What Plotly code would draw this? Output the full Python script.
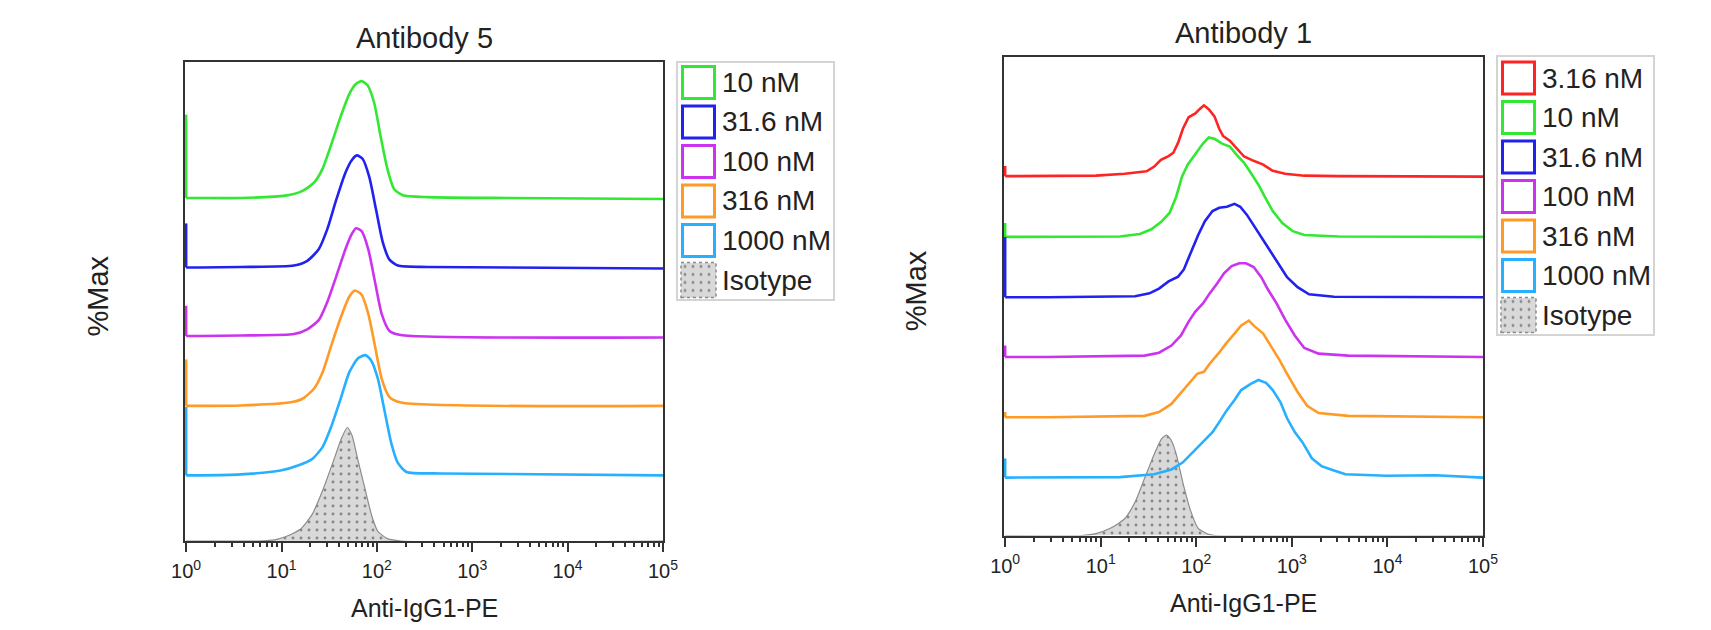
import plotly.graph_objects as go

W, H = 1711, 630
FONT = "Liberation Sans"
TXT = "#222222"

# ---------------- data : Antibody 5 (x = log10 fluorescence, y = %Max offset scale) ----------------
ab5_series = ["10 nM", "31.6 nM", "100 nM", "316 nM", "1000 nM"]
ab5_10_lx = [0, 0, 0.15, 0.57, 1.04, 1.22, 1.34, 1.43, 1.52, 1.62, 1.71, 1.78, 1.84, 1.90, 1.97, 2.04, 2.11, 2.18, 2.27, 2.53, 3.37, 5.0]
ab5_10_y = [89.0, 71.6, 71.6, 71.6, 72.1, 73.1, 74.8, 77.7, 82.7, 88.6, 93.3, 95.4, 96.0, 95.2, 91.6, 84.4, 77.7, 73.5, 72.2, 71.8, 71.6, 71.4]
ab5_31_lx = [0, 0, 0.15, 0.57, 1.13, 1.27, 1.39, 1.48, 1.57, 1.67, 1.74, 1.79, 1.85, 1.92, 1.99, 2.06, 2.13, 2.22, 2.53, 5.0]
ab5_31_y = [66.3, 57.1, 57.1, 57.2, 57.5, 58.5, 60.9, 65.1, 71.0, 76.9, 79.6, 80.5, 79.8, 76.0, 69.3, 62.5, 58.8, 57.5, 57.2, 56.9]
ab5_100_lx = [0, 0, 0.15, 0.57, 1.13, 1.27, 1.39, 1.48, 1.57, 1.67, 1.74, 1.78, 1.84, 1.91, 1.98, 2.05, 2.13, 2.25, 5.0]
ab5_100_y = [49.1, 42.8, 42.8, 42.9, 43.2, 44.2, 46.1, 49.9, 55.0, 60.9, 64.2, 65.3, 64.7, 60.9, 54.1, 47.4, 43.9, 43.0, 42.5]
ab5_316_lx = [0, 0, 0.15, 0.57, 1.08, 1.22, 1.34, 1.43, 1.52, 1.62, 1.71, 1.77, 1.84, 1.91, 1.98, 2.05, 2.13, 2.25, 5.0]
ab5_316_y = [37.9, 28.2, 28.2, 28.3, 28.9, 29.7, 31.8, 35.2, 40.7, 46.6, 51.0, 52.3, 51.4, 47.4, 40.7, 33.9, 30.1, 28.9, 28.2]
ab5_1000_lx = [0, 0, 0.15, 0.57, 0.99, 1.18, 1.32, 1.43, 1.52, 1.62, 1.71, 1.80, 1.88, 1.94, 2.01, 2.08, 2.15, 2.22, 2.31, 2.67, 5.0]
ab5_1000_y = [28.0, 13.7, 13.7, 13.9, 14.7, 15.8, 17.1, 19.6, 23.8, 29.7, 35.2, 38.1, 38.8, 37.7, 33.9, 27.2, 20.5, 16.3, 14.4, 14.1, 13.7]
ab5_iso_lx = [0, 0.76, 0.94, 1.08, 1.20, 1.32, 1.43, 1.55, 1.63, 1.69, 1.74, 1.80, 1.88, 1.95, 2.01, 2.11, 2.25, 5.0]
ab5_iso_y = [0, 0, 0.3, 1.2, 2.5, 5.5, 10.5, 17.0, 21.5, 23.7, 22.0, 17.0, 10.5, 5.0, 2.0, 0.5, 0, 0]

# ---------------- data : Antibody 1 ----------------
ab1_series = ["3.16 nM", "10 nM", "31.6 nM", "100 nM", "316 nM", "1000 nM"]
ab1_3_lx = [0, 0, 0.44, 0.95, 1.25, 1.41, 1.48, 1.56, 1.63, 1.71, 1.76, 1.81, 1.86, 1.92, 1.99, 2.04, 2.08, 2.13,
            2.19, 2.24, 2.28, 2.35, 2.42, 2.50, 2.60, 2.70, 2.80, 2.93, 3.13, 3.49, 5.0]
ab1_3_y = [77.2, 75.1, 75.1, 75.2, 75.6, 76.0, 76.1, 77.1, 78.5, 79.3, 80.0, 82.1, 85.0, 87.4, 88.2, 89.2, 89.9, 89.1,
           87.6, 85.0, 83.5, 82.5, 81.0, 79.2, 78.3, 77.5, 76.2, 75.6, 75.2, 75.1, 75.0]
ab1_10_lx = [0, 0, 0.44, 1.20, 1.41, 1.53, 1.63, 1.72, 1.79, 1.85, 1.91, 1.99, 2.07, 2.13, 2.19, 2.27, 2.35, 2.42,
             2.50, 2.57, 2.65, 2.73, 2.80, 2.90, 3.01, 3.13, 3.49, 5.0]
ab1_10_y = [65.3, 62.4, 62.4, 62.5, 63.0, 64.0, 65.5, 67.4, 70.8, 75.0, 77.5, 79.6, 81.9, 83.2, 82.9, 81.9, 81.3, 79.6,
            77.9, 75.8, 73.3, 70.3, 67.8, 65.3, 63.6, 62.8, 62.5, 62.4]
ab1_31_lx = [0, 0, 0.44, 1.36, 1.51, 1.61, 1.71, 1.81, 1.87, 1.94, 2.02, 2.09, 2.17, 2.24, 2.32, 2.40, 2.46, 2.53,
             2.61, 2.70, 2.78, 2.87, 2.95, 3.06, 3.18, 3.44, 5.0]
ab1_31_y = [62.4, 49.8, 49.8, 50.0, 50.6, 51.6, 53.1, 54.1, 55.6, 59.0, 62.8, 65.7, 67.8, 68.5, 68.7, 69.3, 68.7, 67.0,
            64.5, 61.9, 59.4, 56.5, 54.0, 51.9, 50.4, 49.9, 49.8]
ab1_100_lx = [0, 0, 0.44, 1.46, 1.61, 1.74, 1.84, 1.92, 1.99, 2.07, 2.14, 2.22, 2.29, 2.37, 2.45, 2.52, 2.60, 2.68,
              2.75, 2.84, 2.93, 3.03, 3.13, 3.28, 3.59, 5.0]
ab1_100_y = [39.7, 37.3, 37.3, 37.6, 38.2, 39.7, 41.8, 44.7, 46.8, 48.5, 50.6, 52.7, 54.8, 56.3, 56.9, 56.9, 56.1, 54.0,
             51.4, 48.5, 45.1, 41.8, 39.2, 38.0, 37.6, 37.3]
ab1_316_lx = [0, 0, 0.44, 1.46, 1.61, 1.74, 1.85, 1.94, 2.01, 2.08, 2.14, 2.23, 2.31, 2.40, 2.47, 2.55, 2.61, 2.70,
              2.78, 2.87, 2.95, 3.06, 3.16, 3.28, 3.59, 5.0]
ab1_316_y = [25.8, 24.7, 24.7, 25.0, 25.8, 27.5, 30.0, 32.1, 33.8, 34.2, 35.9, 38.0, 40.1, 42.2, 43.9, 44.9, 43.7, 42.2,
             39.7, 36.7, 33.8, 30.0, 27.1, 25.6, 25.0, 24.7]
ab1_1000_lx = [0, 0, 0.44, 1.20, 1.56, 1.74, 1.86, 1.96, 2.07, 2.17, 2.24, 2.32, 2.40, 2.47, 2.57, 2.65, 2.73, 2.80,
               2.88, 2.95, 3.03, 3.11, 3.21, 3.31, 3.44, 3.56, 3.99, 4.50, 5.0]
ab1_1000_y = [16.1, 12.1, 12.1, 12.2, 12.8, 13.8, 15.3, 17.4, 19.5, 21.6, 23.7, 26.2, 28.3, 30.4, 31.7, 32.5, 31.9, 30.4,
              27.9, 24.5, 21.6, 19.5, 16.1, 14.5, 13.6, 12.8, 12.5, 12.6, 12.1]
ab1_iso_lx = [0, 0.80, 0.95, 1.10, 1.25, 1.36, 1.46, 1.56, 1.64, 1.69, 1.74, 1.79, 1.86, 1.94, 2.02, 2.12, 2.20, 5.0]
ab1_iso_y = [0, 0, 0.4, 1.5, 3.5, 7.0, 12.0, 17.0, 20.3, 21.0, 19.8, 17.0, 11.0, 5.2, 1.5, 0.3, 0, 0]

iso_label = "Isotype"
tick_exponents = [0, 1, 2, 3, 4, 5]

COL = {"3.16 nM": "#ff2424", "10 nM": "#33e833", "31.6 nM": "#2222ee", "100 nM": "#cc33f0",
       "316 nM": "#ff9a26", "1000 nM": "#26b0ff"}

ab5_data = [(ab5_10_lx, ab5_10_y), (ab5_31_lx, ab5_31_y), (ab5_100_lx, ab5_100_y),
            (ab5_316_lx, ab5_316_y), (ab5_1000_lx, ab5_1000_y)]
ab1_data = [(ab1_3_lx, ab1_3_y), (ab1_10_lx, ab1_10_y), (ab1_31_lx, ab1_31_y), (ab1_100_lx, ab1_100_y),
            (ab1_316_lx, ab1_316_y), (ab1_1000_lx, ab1_1000_y)]


def px_x(p):
    return p / W


def px_y(p):
    return 1 - p / H


PATTERN = dict(shape=".", fgcolor="#333333", bgcolor="#d9d9d9", size=8, solidity=0.1)

fig = go.Figure()

panels = [
    dict(xa="x", ya="y", iso=(ab5_iso_lx, ab5_iso_y), names=ab5_series, data=ab5_data, shape="spline"),
    dict(xa="x2", ya="y2", iso=(ab1_iso_lx, ab1_iso_y), names=ab1_series, data=ab1_data, shape="linear"),
]

for p in panels:
    lx, yv = p["iso"]
    fig.add_trace(go.Scatter(
        x=[10 ** v for v in lx], y=yv, xaxis=p["xa"], yaxis=p["ya"], mode="lines",
        line=dict(color="#8c8c8c", width=1.2, shape="spline", smoothing=0.6),
        fill="tozeroy", fillcolor="#d9d9d9", fillpattern=PATTERN,
        showlegend=False, hoverinfo="skip"))
    for name, (lx, yv) in zip(p["names"], p["data"]):
        xs = [10 ** v for v in lx]
        # first-bin spike at the left edge (straight segment)
        fig.add_trace(go.Scatter(
            x=xs[:2], y=yv[:2], xaxis=p["xa"], yaxis=p["ya"], mode="lines",
            line=dict(color=COL[name], width=2.6), showlegend=False, hoverinfo="skip"))
        # histogram body
        fig.add_trace(go.Scatter(
            x=xs[1:], y=yv[1:], xaxis=p["xa"], yaxis=p["ya"], mode="lines", name=name,
            line=dict(color=COL[name], width=2.6, shape=p["shape"], smoothing=0.6),
            showlegend=False))

# panel geometry (pixels)
geo = {
    "left": dict(x0=185, x1=663, y0=62, y1=541),
    "right": dict(x0=1004, x1=1483, y0=57, y1=535.5),
}

tickvals = [10 ** e for e in tick_exponents]
ticktext = ["10<sup>%d</sup>" % e for e in tick_exponents]
minor_vals = [m * 10 ** e for e in tick_exponents[:-1] for m in range(2, 10)]

axis_common_x = dict(
    type="log", range=[-0.012, 5], tickmode="array", tickvals=tickvals, ticktext=ticktext,
    ticks="outside", ticklen=9, tickwidth=1.5, tickcolor="#333333",
    showline=True, mirror=True, linecolor="#333333", linewidth=2,
    showgrid=False, zeroline=False, automargin=False, ticklabelstandoff=2,
    tickfont=dict(family=FONT, size=20, color=TXT),
    minor=dict(tickmode="array", tickvals=minor_vals, ticks="outside", ticklen=4,
               tickwidth=1.5, tickcolor="#333333", showgrid=False),
)
axis_common_y = dict(range=[0, 100], showticklabels=False, ticks="", showgrid=False, zeroline=False,
                     showline=True, mirror=True, linecolor="#333333", linewidth=2, automargin=False,
                     layer="below traces")

g = geo["left"]
fig.update_layout(
    xaxis=dict(domain=[px_x(g["x0"]), px_x(g["x1"])], anchor="y", **axis_common_x),
    yaxis=dict(domain=[px_y(g["y1"]), px_y(g["y0"])], anchor="x", **axis_common_y),
)
g = geo["right"]
fig.update_layout(
    xaxis2=dict(domain=[px_x(g["x0"]), px_x(g["x1"])], anchor="y2", **axis_common_x),
    yaxis2=dict(domain=[px_y(g["y1"]), px_y(g["y0"])], anchor="x2", **axis_common_y),
)

annotations = []
shapes = []

# titles and axis labels
for key, title in (("left", "Antibody 5"), ("right", "Antibody 1")):
    g = geo[key]
    cx = (g["x0"] + g["x1"]) / 2
    cy = (g["y0"] + g["y1"]) / 2
    annotations.append(dict(text=title, x=px_x(cx), y=px_y(g["y0"] - 24), xref="paper", yref="paper",
                            showarrow=False, xanchor="center", yanchor="middle",
                            font=dict(family=FONT, size=29, color=TXT)))
    annotations.append(dict(text="Anti-IgG1-PE", x=px_x(cx), y=px_y(g["y1"] + 67), xref="paper", yref="paper",
                            showarrow=False, xanchor="center", yanchor="middle",
                            font=dict(family=FONT, size=25, color=TXT)))
    annotations.append(dict(text="%Max", x=px_x(g["x0"] - 88), y=px_y(cy - 5), xref="paper", yref="paper",
                            showarrow=False, xanchor="center", yanchor="middle", textangle=-90,
                            font=dict(family=FONT, size=29, color=TXT)))

# custom legends
legends = [
    dict(names=ab5_series, box=(677, 834, 62, 300), sw_x=681, first_cy=82.5, xa="x3", ya="y3"),
    dict(names=ab1_series, box=(1497, 1654, 56, 335), sw_x=1501, first_cy=78, xa="x4", ya="y4"),
]
STEP = 39.5
SW = 35
for i, lg in enumerate(legends):
    bx0, bx1, by0, by1 = lg["box"]
    shapes.append(dict(type="rect", xref="paper", yref="paper", x0=px_x(bx0), x1=px_x(bx1),
                       y0=px_y(by1), y1=px_y(by0), line=dict(color="#d4d4d4", width=2), fillcolor="white",
                       layer="below"))
    labels = list(lg["names"]) + [iso_label]
    for k, name in enumerate(labels):
        cy = lg["first_cy"] + k * STEP
        sx0, sx1 = lg["sw_x"], lg["sw_x"] + SW
        if name == iso_label:
            xa, ya = lg["xa"], lg["ya"]
            axn = xa.replace("x", "xaxis")
            ayn = ya.replace("y", "yaxis")
            fig.update_layout(**{
                axn: dict(domain=[px_x(sx0), px_x(sx1)], range=[-0.5, 0.5], visible=False, anchor=ya,
                          fixedrange=True, automargin=False),
                ayn: dict(domain=[px_y(cy + SW / 2), px_y(cy - SW / 2)], range=[0, 1], visible=False,
                          anchor=xa, fixedrange=True, automargin=False),
            })
            fig.add_trace(go.Bar(x=[0], y=[1], width=1, xaxis=xa, yaxis=ya, showlegend=False,
                                 hoverinfo="skip",
                                 marker=dict(color="#d9d9d9", line=dict(width=0), pattern=PATTERN)))
            shapes.append(dict(type="rect", xref="paper", yref="paper", x0=px_x(sx0), x1=px_x(sx1),
                               y0=px_y(cy + SW / 2), y1=px_y(cy - SW / 2),
                               line=dict(color="#8a8a8a", width=1.5, dash="dot")))
        else:
            shapes.append(dict(type="rect", xref="paper", yref="paper", x0=px_x(sx0 + 1.5), x1=px_x(sx1 - 1.5),
                               y0=px_y(cy + SW / 2 - 1.5), y1=px_y(cy - SW / 2 + 1.5),
                               line=dict(color=COL[name], width=3), fillcolor="white"))
        annotations.append(dict(text=name, x=px_x(sx1 + 4), y=px_y(cy), xref="paper", yref="paper",
                                showarrow=False, xanchor="left", yanchor="middle",
                                font=dict(family=FONT, size=28, color=TXT)))

fig.update_layout(
    width=W, height=H, autosize=False,
    margin=dict(l=0, r=0, t=0, b=0, pad=0),
    paper_bgcolor="white", plot_bgcolor="white",
    bargap=0,
    annotations=annotations, shapes=shapes,
    font=dict(family=FONT, color=TXT),
)

fig.write_html(
    "out.html",
    config={"displayModeBar": False},
    post_script="document.body.style.margin='0';document.body.style.padding='0';"
                "document.body.style.overflow='hidden';",
)
